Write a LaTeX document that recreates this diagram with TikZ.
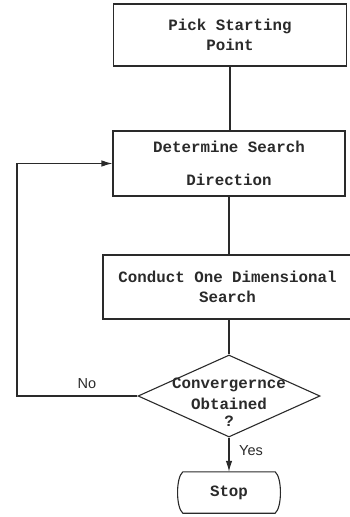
\documentclass[tikz,border=0pt]{standalone}
\usepackage{fontspec}
\newfontfamily\bxf{Liberation Mono}
\newfontfamily\lbf{Liberation Sans}
\usetikzlibrary{shapes.geometric,arrows.meta,calc}
\definecolor{ink}{HTML}{2A2A2A}
\tikzset{
  procbox/.style={draw=ink, line width=1.1pt, rectangle, inner sep=0pt, align=center,
    font=\bxf\bfseries\fontsize{15.8}{20}\selectfont, text=ink},
  conn/.style={draw=ink, line width=1.1pt},
  arr/.style={conn, -{Latex[length=11pt,width=6.5pt]}},
  lab/.style={font=\lbf\fontsize{14.5}{16}\selectfont, text=ink, inner sep=0pt},
  dtxt/.style={font=\bxf\bfseries\fontsize{15.8}{21}\selectfont, text=ink, align=center, inner sep=0pt},
}
\begin{document}
\begin{tikzpicture}[x=1pt,y=-1pt]
\useasboundingbox (0,0) rectangle (349,517);
\node[procbox, minimum width=233pt, minimum height=62pt] (pick) at (230,35) {Pick Starting\\Point};
\node[procbox, minimum width=232pt, minimum height=65pt] (dir) at (229,163.5) {Determine Search\\[13pt]Direction};
\node[procbox, minimum width=249pt, minimum height=64pt] (cond) at (227.5,287) {Conduct One Dimensional\\Search};
\node[diamond, draw=ink, line width=1.1pt, minimum width=182pt, minimum height=82pt, inner sep=0pt] (dec) at (229,396) {};
\node[dtxt] (dect) at (229,394) {Convergernce\\Obtained};
\node[dtxt] (q) at (229,421) {?};
\node[font=\bxf\bfseries\fontsize{15.8}{20}\selectfont, text=ink, minimum width=92pt, minimum height=41pt, inner sep=0pt] (stop) at (229,492.5) {Stop};
\draw[conn] (stop.north west) -- (stop.north east)
  .. controls ($(stop.north east)+(7,6)$) and ($(stop.south east)+(7,-6)$) .. (stop.south east)
  -- (stop.south west)
  .. controls ($(stop.south west)+(-7,-6)$) and ($(stop.north west)+(-7,6)$) .. (stop.north west);
\coordinate (lft) at (17,396);
\draw[conn] (pick.south) -- (pick.south |- dir.north);
\draw[conn] (dir.south) -- (dir.south |- cond.north);
\draw[conn] (cond.south -| dec.north) -- (dec.north);
\draw[arr] (dec.west) -- (lft) |- (dir.west);
\draw[arr] (dec.south) -- (stop.north);
\node[lab] (no) at (87,384) {No};
\node[lab] (yes) at (251,451) {Yes};
\end{tikzpicture}
\end{document}
